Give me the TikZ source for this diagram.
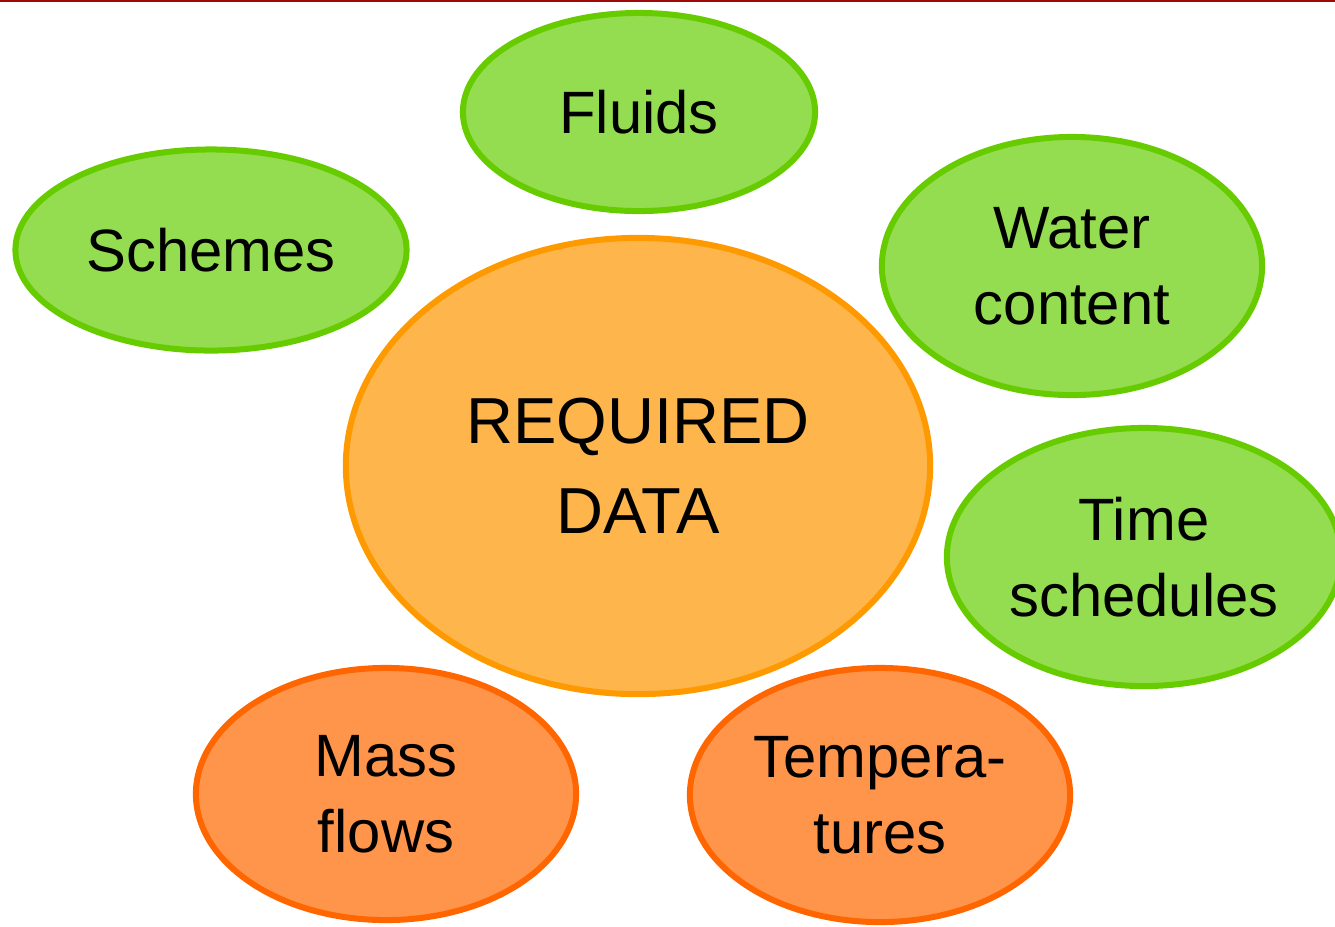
\documentclass[tikz,border=0pt]{standalone}
\usepackage{fontspec}
\setmainfont{Liberation Sans}
\usepackage{tikz}
\usetikzlibrary{shapes.geometric}

\definecolor{leaf}{HTML}{94DC50}
\definecolor{leafline}{HTML}{66CC00}
\definecolor{amber}{HTML}{FDB54C}
\definecolor{amberline}{HTML}{FF9900}
\definecolor{tangerine}{HTML}{FF944B}
\definecolor{tangerineline}{HTML}{FF6600}
\definecolor{barred}{HTML}{9E0A0A}

\begin{document}
\begin{tikzpicture}[x=0.01cm, y=-0.01cm,
	blob/.style={ellipse, inner sep=0pt, line width=0.06cm, align=center, font=\fontsize{17}{21.6}\selectfont},
	topic/.style={blob, draw=leafline, fill=leaf},
	core/.style={blob, draw=amberline, fill=amber, font=\fontsize{18.5}{25.6}\selectfont},
	measure/.style={blob, draw=tangerineline, fill=tangerine}]
	\useasboundingbox (0,0) rectangle (1335,926);
	\clip (0,0) rectangle (1335,926);
	
	\coordinate (barl) at (0,1);
	\coordinate (barr) at (1335,1);
	\draw[barred, line width=0.025cm] (barl) -- (barr);
	
	\node[core, minimum width=5.84cm, minimum height=4.56cm] (data) at (638,466) {REQUIRED\\DATA};
	\node[topic, minimum width=3.52cm, minimum height=1.98cm] (fluids) at (639,112) {Fluids};
	\node[topic, minimum width=3.91cm, minimum height=2.01cm] (schemes) at (211,250) {Schemes};
	\node[topic, minimum width=3.80cm, minimum height=2.58cm] (water) at (1072,266) {Water\\content};
	\node[topic, minimum width=3.94cm, minimum height=2.58cm] (time) at (1144,557) {Time\\schedules};
	\node[measure, minimum width=3.80cm, minimum height=2.52cm] (mass) at (386,794) {Mass\\flows};
	\node[measure, minimum width=3.80cm, minimum height=2.54cm] (temp) at (880,795) {Tempera-\\tures};
\end{tikzpicture}
\end{document}
